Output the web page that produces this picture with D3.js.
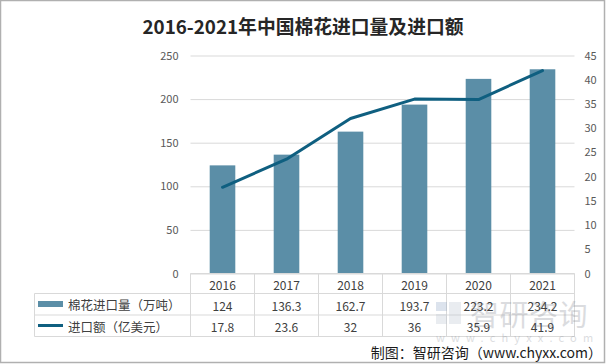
<!DOCTYPE html>
<html><head><meta charset="utf-8">
<script src="https://cdn.jsdelivr.net/npm/d3@7"></script>
<style>
html,body{margin:0;padding:0;background:#fff;}
svg{display:block;}
text{font-family:"Noto Sans CJK SC","Noto Sans",sans-serif;}
</style></head>
<body>
<script>
const categories = ["2016","2017","2018","2019","2020","2021"];
const importVolume = [124,136.3,162.7,193.7,223.2,234.2];
const importValue = [17.8,23.6,32,36,35.9,41.9];
const leftTicks = [0,50,100,150,200,250];
const rightTicks = [0,5,10,15,20,25,30,35,40,45];
const seriesNames = ["棉花进口量（万吨）","进口额（亿美元）"];
const titleText = "2016-2021年中国棉花进口量及进口额";
const sourceText = "制图：智研咨询（www.chyxx.com）";

const W = 606, H = 364;
const x0 = 190.5, x1 = 574.5, yTop = 55.5, yBot = 273.5;
const tableLeft = 34.5, row1 = 293.5, row2 = 315, row3 = 336.5;
const barColor = "#5b8ea7", lineColor = "#0f5f80";

const svg = d3.select("body").append("svg").attr("width", W).attr("height", H);
svg.append("rect").attr("x",0.5).attr("y",0.5).attr("width",W-2).attr("height",H-2)
  .attr("fill","#fff").attr("stroke","#b0b0b0").attr("stroke-width",1.5);

svg.append("text").attr("x", 303).attr("y", 25).attr("text-anchor","middle")
  .attr("dominant-baseline","central").attr("font-size",18.8).attr("font-weight","bold")
  .attr("fill","#262626").text(titleText);

const xCell = d3.scaleBand().domain(categories).range([x0,x1]);
const xBar = d3.scaleBand().domain(categories).range([x0,x1]).paddingInner(0.6).paddingOuter(0.3);
const yL = d3.scaleLinear().domain([0,250]).range([yBot,yTop]);
const yR = d3.scaleLinear().domain([0,45]).range([yBot,yTop]);

// left axis + gridlines
const gL = svg.append("g").attr("transform",`translate(${x0},0)`)
  .call(d3.axisLeft(yL).tickValues(leftTicks).tickSizeInner(-(x1-x0)).tickSizeOuter(0).tickPadding(12));
gL.select(".domain").remove();
gL.selectAll(".tick line").attr("stroke","#d9d9d9");
gL.selectAll(".tick text").attr("fill","#595959").attr("font-size",11).attr("font-family","'Noto Sans','DejaVu Sans',sans-serif");

// right axis
const gR = svg.append("g").attr("transform",`translate(${x1},0)`)
  .call(d3.axisRight(yR).tickValues(rightTicks).tickSize(0).tickPadding(10));
gR.select(".domain").remove();
gR.selectAll(".tick text").attr("fill","#595959").attr("font-size",11).attr("font-family","'Noto Sans','DejaVu Sans',sans-serif");

// bars
svg.append("g").selectAll("rect").data(categories).join("rect")
  .attr("x", d => xBar(d)).attr("width", xBar.bandwidth())
  .attr("y", (d,i) => yL(importVolume[i])).attr("height", (d,i) => yBot - yL(importVolume[i]))
  .attr("fill", barColor);

// line
const line = d3.line().x((d,i) => xCell(categories[i]) + xCell.bandwidth()/2).y(d => yR(d));
svg.append("path").datum(importValue).attr("d", line).attr("fill","none")
  .attr("stroke", lineColor).attr("stroke-width", 3).attr("stroke-linejoin","round").attr("stroke-linecap","round");

// table
const tg = svg.append("g").attr("stroke","#d9d9d9").attr("stroke-width",1);
tg.append("line").attr("x1",x0).attr("x2",x1).attr("y1",yBot).attr("y2",yBot);
[row1,row2,row3].forEach(y => tg.append("line").attr("x1",tableLeft).attr("x2",x1).attr("y1",y).attr("y2",y));
tg.append("line").attr("x1",tableLeft).attr("x2",tableLeft).attr("y1",row1).attr("y2",row3);
categories.concat([null]).forEach((c,i) => {
  const xx = c ? xCell(c) : x1;
  tg.append("line").attr("x1",xx).attr("x2",xx).attr("y1",yBot).attr("y2",row3);
});

// watermark
const wm = svg.append("g").attr("opacity",0.3);
wm.append("rect").attr("x",436).attr("y",302).attr("width",11).attr("height",9).attr("fill","#8fa6c4");
wm.append("rect").attr("x",449).attr("y",302).attr("width",12).attr("height",22).attr("fill","#b9c3d0");
wm.append("rect").attr("x",436).attr("y",314).attr("width",11).attr("height",10).attr("fill","#b9c3d0");
wm.append("text").attr("x",470).attr("y",313).attr("dominant-baseline","central")
  .attr("font-size",29).attr("fill","#8a8f99").attr("letter-spacing",0.5).text("智研咨询");
wm.append("text").attr("x",436).attr("y",337).attr("dominant-baseline","central")
  .attr("font-size",11).attr("fill","#8a8f99").attr("letter-spacing",6.2).text("www.chyxx.com");

const cellText = (vals, y) => svg.append("g").selectAll("text").data(vals).join("text")
  .attr("x",(d,i) => xCell(categories[i]) + xCell.bandwidth()/2).attr("y", y)
  .attr("text-anchor","middle").attr("dominant-baseline","central")
  .attr("font-size",12).attr("fill","#404040").text(d => d);
cellText(categories, 284);
cellText(importVolume.map(String), 305);
cellText(importValue.map(String), 326);

// legend keys
svg.append("rect").attr("x",38).attr("y",301).attr("width",25).attr("height",6).attr("fill",barColor);
svg.append("line").attr("x1",38).attr("x2",63).attr("y1",325.5).attr("y2",325.5).attr("stroke",lineColor).attr("stroke-width",3);
svg.append("text").attr("x",68).attr("y",304).attr("dominant-baseline","central").attr("font-size",12.5).attr("fill","#404040").text(seriesNames[0]);
svg.append("text").attr("x",68).attr("y",326).attr("dominant-baseline","central").attr("font-size",12.5).attr("fill","#404040").text(seriesNames[1]);

// source
svg.append("text").attr("x",602).attr("y",352).attr("text-anchor","end").attr("dominant-baseline","central")
  .attr("font-size",14).attr("fill","#1a1a1a").text(sourceText);
</script>
</body></html>
